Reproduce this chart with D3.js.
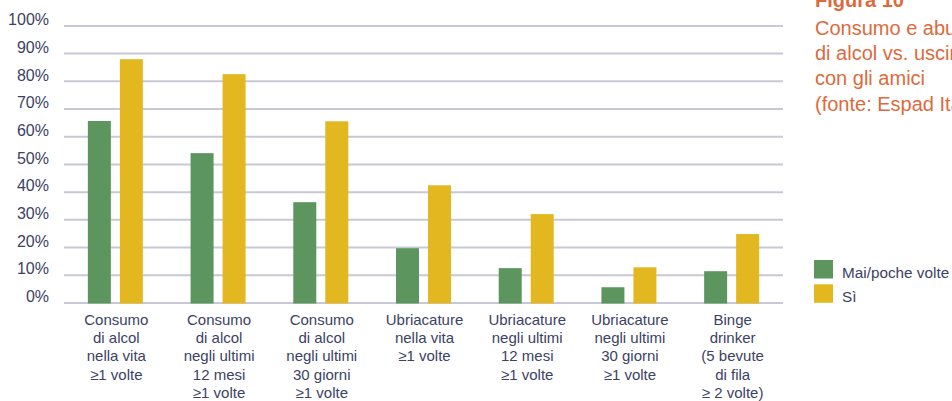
<!DOCTYPE html>
<html>
<head>
<meta charset="utf-8">
<script src="https://cdn.jsdelivr.net/npm/d3@7"></script>
<style>
  html, body { margin: 0; padding: 0; background: #fff; }
  svg { display: block; font-family: "Liberation Sans", Arial, sans-serif; }
</style>
</head>
<body>
<svg id="chart" width="952" height="401"></svg>
<script>
const categories = [
  ["Consumo", "di alcol", "nella vita", "\u22651 volte"],
  ["Consumo", "di alcol", "negli ultimi", "12 mesi", "\u22651 volte"],
  ["Consumo", "di alcol", "negli ultimi", "30 giorni", "\u22651 volte"],
  ["Ubriacature", "nella vita", "\u22651 volte"],
  ["Ubriacature", "negli ultimi", "12 mesi", "\u22651 volte"],
  ["Ubriacature", "negli ultimi", "30 giorni", "\u22651 volte"],
  ["Binge", "drinker", "(5 bevute", "di fila", "\u2265 2 volte)"]
];
const seriesNames = ["Mai/poche volte", "S\u00ec"];
const maiPoche = [65.5, 53.9, 36.2, 19.6, 12.4, 5.5, 11.3];
const si = [87.8, 82.4, 65.4, 42.3, 31.9, 12.7, 24.7];
const yTicks = [0, 10, 20, 30, 40, 50, 60, 70, 80, 90, 100];
const titleLines = ["Figura 10", "Consumo e abuso", "di alcol vs. uscire", "con gli amici", "(fonte: Espad Italia)"];

const colors = ["#5c965e", "#e3b720"];
const textColor = "#3b4264";
const gridColor = "#c8c8d6";
const titleColor = "#dd6a3d";

const svg = d3.select("#chart");
const plotLeft = 64, plotRight = 783, plotTop = 25.4, plotBottom = 302.5;

const idx = d3.range(categories.length);
const x0 = d3.scaleBand().domain(idx).range([plotLeft, plotRight]).paddingInner(0).paddingOuter(0);
const bw = x0.bandwidth();
const x1 = d3.scaleBand().domain([0, 1]).range([bw / 2 - 27.5, bw / 2 + 27.5]).paddingInner(0.28125);
const y = d3.scaleLinear().domain([0, 100]).range([plotBottom, plotTop]);

// grid + y labels
const yAxis = d3.axisLeft(y).tickValues(yTicks).tickSize(-(plotRight - plotLeft)).tickPadding(15)
  .tickFormat(d => d + "%");
const gy = svg.append("g").attr("transform", `translate(${plotLeft},0)`).call(yAxis);
gy.select(".domain").remove();
gy.selectAll(".tick line").attr("stroke", gridColor).attr("stroke-width", 2);
gy.selectAll(".tick text").attr("fill", textColor).attr("font-size", 16).attr("dy", "-0.05em")
  .attr("x", -15);

// bars
const data = idx.map(i => [maiPoche[i], si[i]]);
const groups = svg.append("g").selectAll("g").data(data).join("g")
  .attr("transform", (d, i) => `translate(${x0(i)},0)`);
groups.selectAll("rect").data(d => d.map((v, s) => ({ v, s }))).join("rect")
  .attr("x", d => x1(d.s))
  .attr("width", x1.bandwidth())
  .attr("y", d => y(d.v))
  .attr("height", d => y(0) - y(d.v) + 1)
  .attr("fill", d => colors[d.s]);

// x labels
const xl = svg.append("g").selectAll("text").data(categories).join("text")
  .attr("x", (d, i) => x0(i) + bw / 2 + 1)
  .attr("y", 325)
  .attr("text-anchor", "middle")
  .attr("fill", textColor)
  .attr("font-size", 15);
xl.selectAll("tspan").data(d => d).join("tspan")
  .attr("x", function () { return this.parentNode.getAttribute("x"); })
  .attr("dy", (d, j) => j === 0 ? 0 : 18.2)
  .text(d => d);

// title
const t = svg.append("text").attr("x", 815).attr("y", 7).attr("fill", titleColor).attr("font-size", 20);
t.selectAll("tspan").data(titleLines).join("tspan")
  .attr("x", 815)
  .attr("y", (d, i) => i === 0 ? 7 : 35 + (i - 1) * 25.2)
  .attr("font-weight", (d, i) => i === 0 ? "bold" : "normal")
  .text(d => d);

// legend
const lg = svg.append("g").selectAll("g").data(seriesNames).join("g")
  .attr("transform", (d, i) => `translate(814,${260 + i * 24.3})`);
lg.append("rect").attr("width", 19).attr("height", 18.5).attr("fill", (d, i) => colors[i]);
lg.append("text").attr("x", 28).attr("y", 18).attr("fill", textColor).attr("font-size", 15.3).text(d => d);
</script>
</body>
</html>
